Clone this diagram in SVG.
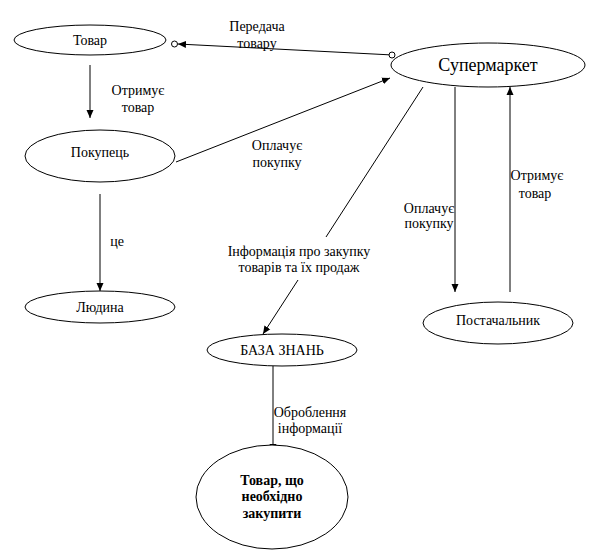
<svg xmlns="http://www.w3.org/2000/svg" width="593" height="558" viewBox="0 0 593 558">
<style>
.n{fill:#fff;stroke:#000;stroke-width:1}
.t{font-family:"Liberation Serif","Times New Roman",serif;font-size:14px;fill:#000;text-anchor:middle}
.b{font-weight:bold}
.big{font-size:18px}
.c{stroke:#000;stroke-width:1;fill:none}
.o{fill:#fff;stroke:#000;stroke-width:1}
</style>
<defs>
<marker id="a" markerWidth="8" markerHeight="8" refX="8" refY="4" orient="auto" markerUnits="userSpaceOnUse">
<path d="M0,0.5 L8,4 L0,7.5 Z" fill="#000"/>
</marker>
</defs>
<rect width="593" height="558" fill="#fff"/>
<g id="connectors">
<line class="c" x1="389" y1="54.8" x2="178" y2="44" marker-end="url(#a)"/>
<circle class="o" cx="174.5" cy="44" r="3"/>
<circle class="o" cx="392" cy="55" r="3"/>
<line class="c" x1="90" y1="65" x2="90" y2="118" marker-end="url(#a)"/>
<line class="c" x1="176" y1="162" x2="390" y2="78" marker-end="url(#a)"/>
<line class="c" x1="100" y1="194" x2="100" y2="291" marker-end="url(#a)"/>
<line class="c" x1="423" y1="87" x2="326" y2="237"/>
<line class="c" x1="298" y1="280" x2="263" y2="334" marker-end="url(#a)"/>
<line class="c" x1="455" y1="87" x2="455" y2="292" marker-end="url(#a)"/>
<line class="c" x1="510" y1="292" x2="510" y2="87" marker-end="url(#a)"/>
<line class="c" x1="273" y1="366" x2="273" y2="452" marker-end="url(#a)"/>
<text class="t" x="257" y="31">Передача</text>
<text class="t" x="257" y="48">товару</text>
<text class="t" x="138" y="95">Отримує</text>
<text class="t" x="138" y="112">товар</text>
<text class="t" x="277" y="150">Оплачує</text>
<text class="t" x="277" y="167">покупку</text>
<text class="t" x="117" y="246">це</text>
<text class="t" x="299" y="256">Інформація про закупку</text>
<text class="t" x="299" y="272">товарів та їх продаж</text>
<text class="t" x="429" y="213">Оплачує</text>
<text class="t" x="429" y="228">покупку</text>
<text class="t" x="537" y="180">Отримує</text>
<text class="t" x="535" y="198">товар</text>
<text class="t" x="310" y="417">Оброблення</text>
<text class="t" x="310" y="433">інформації</text>
</g>
<g id="tovar">
<ellipse class="n" cx="90" cy="40" rx="76" ry="15"/>
<text class="t" x="90" y="45">Товар</text>
</g>
<g id="pokupets">
<ellipse class="n" cx="100" cy="156" rx="75" ry="26"/>
<text class="t" x="100" y="157">Покупець</text>
</g>
<g id="liudyna">
<ellipse class="n" cx="100" cy="307" rx="75" ry="16"/>
<text class="t" x="100" y="312">Людина</text>
</g>
<g id="supermarket">
<ellipse class="n" cx="488" cy="65" rx="97" ry="22"/>
<text class="t big" x="488" y="71">Супермаркет</text>
</g>
<g id="postachalnyk">
<ellipse class="n" cx="498" cy="323" rx="75" ry="21"/>
<text class="t" x="498" y="325">Постачальник</text>
</g>
<g id="baza">
<ellipse class="n" cx="282" cy="350" rx="75" ry="16"/>
<text class="t" x="282" y="355">БАЗА ЗНАНЬ</text>
</g>
<g id="tovar-zakupyty">
<ellipse class="n" cx="272" cy="497" rx="76" ry="52"/>
<text class="t b" x="272" y="485">Товар, що</text>
<text class="t b" x="272" y="501">необхідно</text>
<text class="t b" x="272" y="518">закупити</text>
</g>
</svg>
